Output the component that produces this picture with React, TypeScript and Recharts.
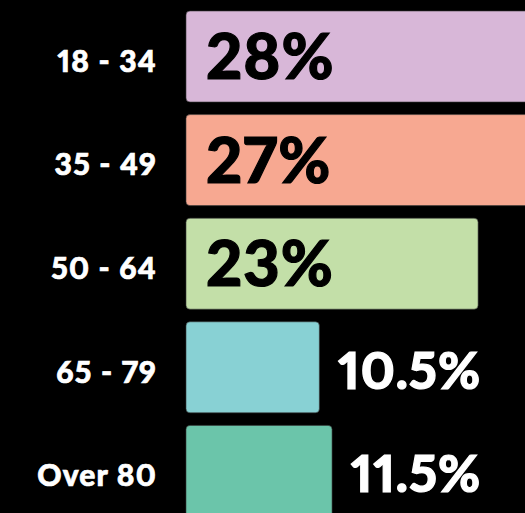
import React from 'react';
import { BarChart, Bar, XAxis, YAxis, Cell, LabelList } from 'recharts';

const ageGroups = ['18 - 34', '35 - 49', '50 - 64', '65 - 79', 'Over 80'];
const shares = [28, 27, 23, 10.5, 11.5];
const barColors = ['#D8B7D8', '#F7A891', '#C3DFA8', '#88D1D4', '#6BC5AA'];

const data = ageGroups.map((group, i) => ({ group, share: shares[i] }));

const FONT = 'Lato, "Open Sans", sans-serif';
const textStyle = { fontVariantNumeric: 'proportional-nums' as const };

function AgeTick(props: any) {
  const { x, y, payload } = props;
  return (
    <text
      x={x + 2}
      y={y + 15}
      textAnchor="end"
      fill="#fff"
      stroke="#fff"
      strokeWidth={0.7}
      fontFamily={FONT}
      fontSize={30}
      fontWeight={900}
      letterSpacing={1.2}
      style={textStyle}
    >
      {payload.value}
    </text>
  );
}

function ValueLabel(props: any) {
  const { x, y, width, height, value } = props;
  const inside = value >= 20;
  const size = inside ? 63 : 51;
  const cy = y + height / 2;
  const color = inside ? '#000' : '#fff';
  return (
    <text
      x={inside ? x + 20 : x + width + 19}
      y={cy + size * 0.36 + (inside ? 0 : 3)}
      fill={color}
      stroke={color}
      strokeWidth={1.2}
      fontFamily={FONT}
      fontSize={size}
      fontWeight={900}
      letterSpacing={1}
      style={textStyle}
    >
      {`${value}%`}
    </text>
  );
}

export default function App() {
  return (
    <div
      style={{
        position: 'absolute',
        left: 0,
        top: 0,
        width: 525,
        height: 513,
        overflow: 'hidden',
        background: '#000',
      }}
    >
      <BarChart
        width={567}
        height={523}
        data={data}
        layout="vertical"
        margin={{ top: 5, right: 0, bottom: 0, left: 0 }}
      >
        <XAxis type="number" domain={[0, 30]} hide />
        <YAxis
          type="category"
          dataKey="group"
          width={186}
          axisLine={false}
          tickLine={false}
          tickSize={0}
          tickMargin={31}
          tick={<AgeTick />}
        />
        <Bar
          dataKey="share"
          barSize={91}
          radius={4}
          stroke="#3a3a3a"
          strokeWidth={0.6}
          isAnimationActive={false}
        >
          {data.map((d, i) => (
            <Cell key={d.group} fill={barColors[i]} />
          ))}
          <LabelList dataKey="share" content={<ValueLabel />} />
        </Bar>
      </BarChart>
    </div>
  );
}
